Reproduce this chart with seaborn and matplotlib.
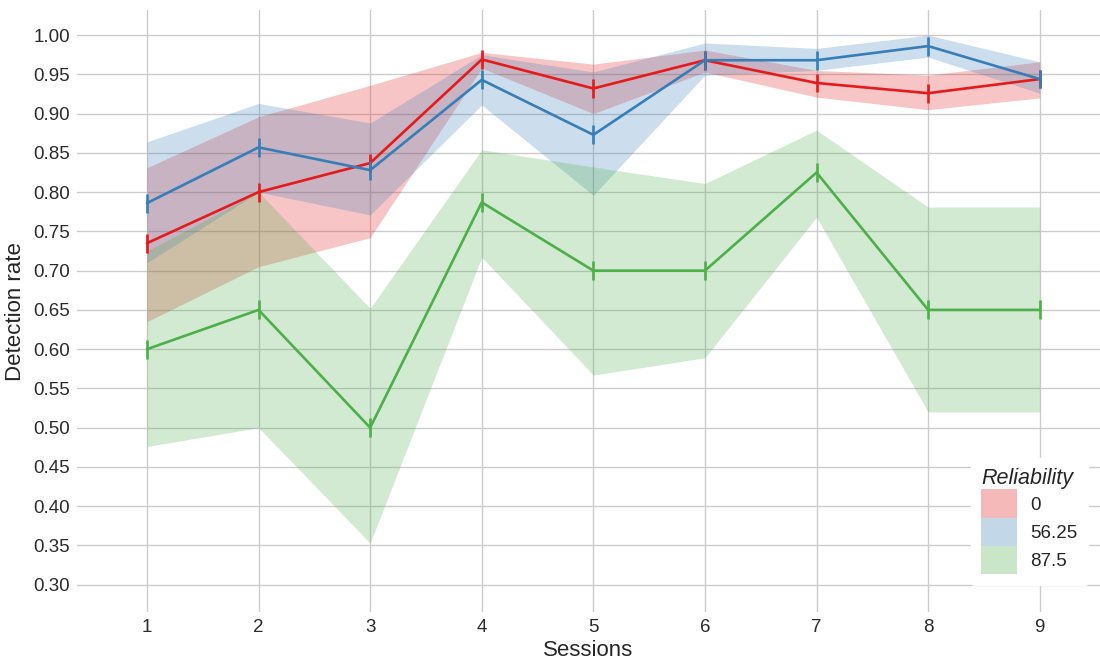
import matplotlib
matplotlib.use("Agg")
import matplotlib.pyplot as plt
import numpy as np
import pandas as pd
import seaborn as sns
from matplotlib.patches import Patch

sessions = [1, 2, 3, 4, 5, 6, 7, 8, 9]
levels = ["0", "56.25", "87.5"]

# mean detection rate per session
rate_0 = [0.735, 0.800, 0.837, 0.969, 0.932, 0.968, 0.939, 0.926, 0.944]
rate_56 = [0.786, 0.857, 0.828, 0.943, 0.873, 0.968, 0.968, 0.986, 0.944]
rate_87 = [0.600, 0.650, 0.500, 0.787, 0.700, 0.700, 0.825, 0.650, 0.650]

# shaded band limits
lo_0 = [0.635, 0.705, 0.742, 0.958, 0.900, 0.953, 0.921, 0.905, 0.920]
hi_0 = [0.831, 0.896, 0.936, 0.978, 0.963, 0.981, 0.955, 0.949, 0.966]
lo_56 = [0.710, 0.800, 0.771, 0.911, 0.796, 0.949, 0.955, 0.972, 0.926]
hi_56 = [0.864, 0.913, 0.888, 0.975, 0.953, 0.990, 0.983, 1.000, 0.966]
lo_87 = [0.476, 0.500, 0.353, 0.717, 0.567, 0.589, 0.768, 0.520, 0.520]
hi_87 = [0.725, 0.800, 0.652, 0.854, 0.832, 0.811, 0.879, 0.781, 0.781]

# half-length of the small error ticks
err = 0.012

colors = ["#e41a1c", "#377eb8", "#4daf4a"]

df = pd.DataFrame({
    "session": sessions * 3,
    "rate": rate_0 + rate_56 + rate_87,
    "lo": lo_0 + lo_56 + lo_87,
    "hi": hi_0 + hi_56 + hi_87,
    "reliability": [lv for lv in levels for _ in sessions],
})

sns.set_style("white")
plt.rcParams["font.family"] = ["Liberation Sans", "DejaVu Sans"]

fig = plt.figure(figsize=(11, 6.64), dpi=100)
ax = fig.add_axes([0.07, 0.078, 0.93, 0.907])

for lv, col in zip(levels, colors):
    sub = df[df.reliability == lv]
    ax.fill_between(sub.session, sub.lo, sub.hi, color=col, alpha=0.25,
                    linewidth=0, zorder=2)

sns.lineplot(data=df, x="session", y="rate", hue="reliability",
             palette=colors, hue_order=levels, errorbar=None,
             linewidth=1.9, legend=False, ax=ax, zorder=3)

for lv, col in zip(levels, colors):
    sub = df[df.reliability == lv]
    ax.errorbar(sub.session, sub.rate, yerr=err, fmt="none", ecolor=col,
                elinewidth=1.9, capsize=0, zorder=4)

ax.set_xlim(0.373, 9.54)
ax.set_ylim(0.265, 1.032)
ax.set_xticks(sessions)
ax.set_yticks(np.round(np.arange(0.30, 1.001, 0.05), 2))
ax.set_yticklabels([f"{v:.2f}" for v in np.arange(0.30, 1.001, 0.05)])
ax.grid(True, color="#cccccc", linewidth=1.0, zorder=0)
ax.set_axisbelow(True)
for s in ax.spines.values():
    s.set_visible(False)
ax.tick_params(axis="both", length=0, labelsize=13.5, colors="#2b2b2b", pad=5)
ax.set_xlabel("Sessions", fontsize=16, labelpad=3)
ax.set_ylabel("Detection rate", fontsize=16, labelpad=5)

handles = [Patch(facecolor=c, alpha=0.3, edgecolor="none", label=lv)
           for c, lv in zip(colors, levels)]
leg = ax.legend(handles=handles, title="Reliability", loc="lower right",
                bbox_to_anchor=(0.997, 0.03), frameon=True, framealpha=1,
                edgecolor="white", fontsize=13.5, title_fontsize=15.5,
                handlelength=1.9, handleheight=1.95, labelspacing=0.0,
                handletextpad=0.7, borderpad=0.55, alignment="left")
leg.get_title().set_fontstyle("italic")
leg.get_title().set_fontweight("medium")

fig.savefig("out.png", dpi=100, facecolor="white")
